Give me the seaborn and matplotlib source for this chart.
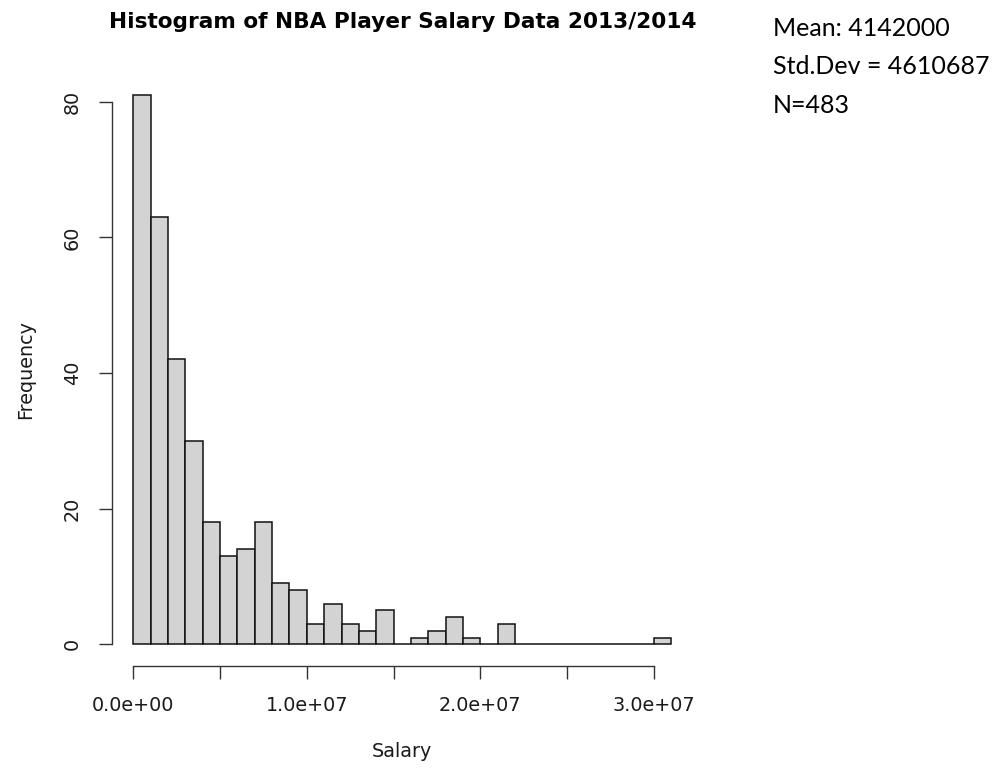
import pandas as pd
import matplotlib
matplotlib.use("Agg")
import matplotlib.pyplot as plt
import seaborn as sns

# bin edges (millions of dollars) and counts
bin_edges_m = [0, 1, 2, 3, 4, 5, 6, 7, 8, 9, 10, 11, 12, 13, 14, 15, 16,
               17, 18, 19, 20, 21, 22, 23, 24, 25, 26, 27, 28, 29, 30, 31]
counts = [81, 63, 42, 30, 18, 13, 14, 18, 9, 8, 3, 6, 3, 2, 5, 0,
          1, 2, 4, 1, 0, 3, 0, 0, 0, 0, 0, 0, 0, 0, 1]

x_ticks = [0, 5e6, 1e7, 1.5e7, 2e7, 2.5e7, 3e7]
x_ticklabels = ["0.0e+00", "", "1.0e+07", "", "2.0e+07", "", "3.0e+07"]
y_ticks = [0, 20, 40, 60, 80]

stats_lines = ["Mean: 4142000", "Std.Dev = 4610687", "N=483"]

edges = [e * 1e6 for e in bin_edges_m]
df = pd.DataFrame({"salary": [(a + b) / 2 for a, b in zip(edges[:-1], edges[1:])],
                   "n": counts})

sns.set_style("ticks")
plt.rcParams["font.family"] = ["DejaVu Sans"]

W, H = 999, 773
fig = plt.figure(figsize=(W / 100, H / 100), dpi=100)
ax = fig.add_axes([111.8 / W, 1 - 666.3 / H, (692.7 - 111.8) / W, (666.3 - 72.9) / H])

sns.histplot(data=df, x="salary", weights="n", bins=edges, color="#D3D3D3",
             edgecolor="#111111", linewidth=1.1, alpha=1, ax=ax)

ax.set_xlim(-0.04 * 31e6, 31e6 * 1.04)
ax.set_ylim(-0.04 * 81, 81 * 1.04)

for s in ["top", "right"]:
    ax.spines[s].set_visible(False)
ax.spines["left"].set_bounds(0, 80)
ax.spines["bottom"].set_bounds(0, 3e7)
for s in ["left", "bottom"]:
    ax.spines[s].set_color("#333333")
    ax.spines[s].set_linewidth(1.0)

ax.set_xticks(x_ticks)
ax.set_xticklabels(x_ticklabels)
ax.set_yticks(y_ticks)
ax.set_yticklabels([str(v) for v in y_ticks], rotation=90, va="center")
ax.tick_params(axis="both", length=9.5, width=1.0, color="#333333",
               labelsize=13.8, labelcolor="#1a1a1a", direction="out",
               bottom=True, left=True)
ax.tick_params(axis="x", pad=12)
ax.tick_params(axis="y", pad=12)

ax.set_xlabel("Salary", fontsize=13.8, color="#1a1a1a", labelpad=19)
ax.set_ylabel("Frequency", fontsize=13.8, color="#1a1a1a", labelpad=20)
ax.set_title("Histogram of NBA Player Salary Data 2013/2014", fontsize=15.6,
             fontweight="bold", color="black", pad=32)

for i, line in enumerate(stats_lines):
    fig.text(773 / W, 1 - (36 + 38.5 * i) / H, line, fontsize=18,
             family=["Lato", "DejaVu Sans"], va="baseline", ha="left", color="black")

fig.savefig("out.png", dpi=100)
